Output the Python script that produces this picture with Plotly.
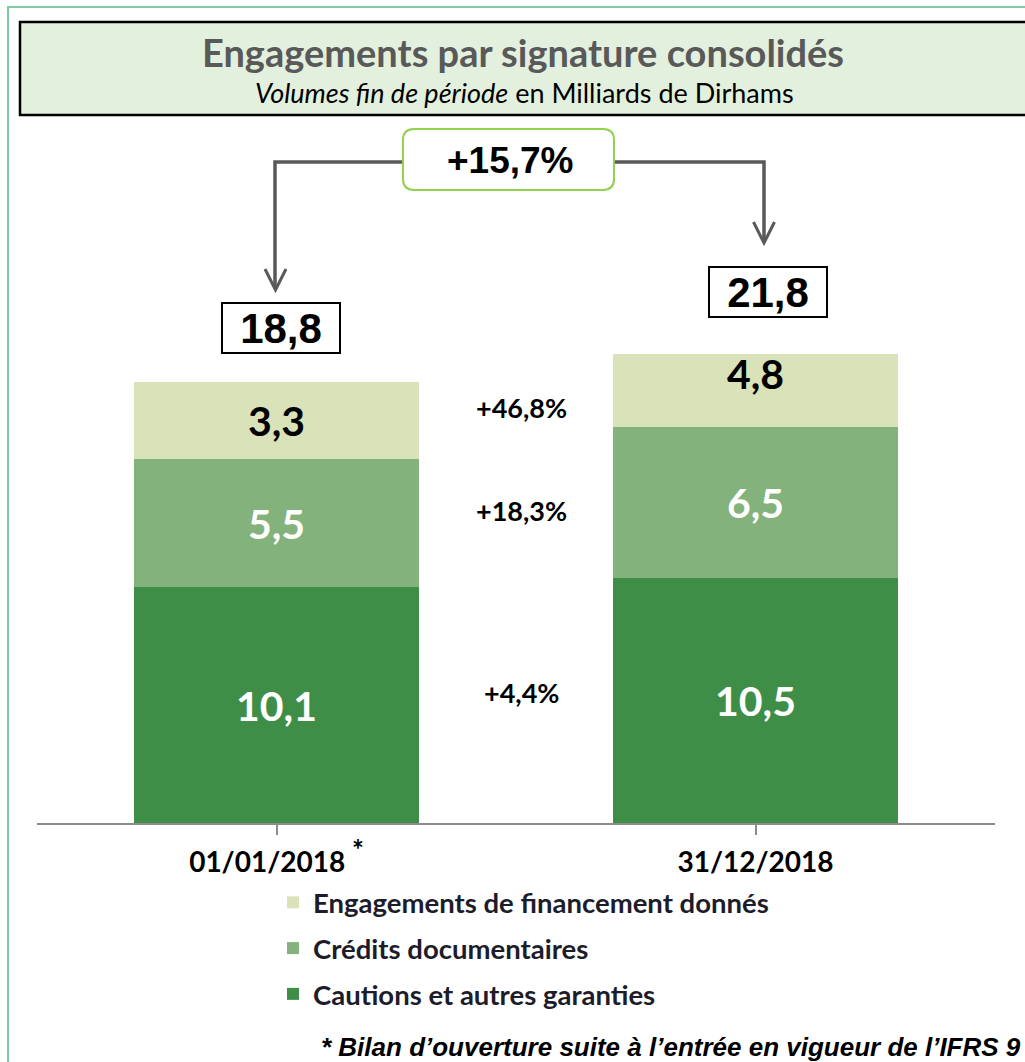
import plotly.graph_objects as go

# ---------------- data ----------------
categories = ["01/01/2018", "31/12/2018"]
tick_labels = ["01/01/2018<sup><span style='font-size:28px'> *</span></sup>", "31/12/2018"]

cautions = [10.1, 10.5]            # Cautions et autres garanties
credits_doc = [5.5, 6.5]           # Crédits documentaires
# Engagements de financement donnés: labelled 3,3 and 4,8; in the original
# picture the 31/12/2018 segment is drawn only ~3.1 high, so we keep the
# drawn heights and the printed labels separately.
financement_drawn = [3.3, 3.1]
financement_labels = ["3,3", "4,8"]

totals_labels = ["18,8", "21,8"]
growth_total = "+15,7%"
growth_series = ["+4,4%", "+18,3%", "+46,8%"]  # cautions, crédits, financement

series_names = ["Cautions et autres garanties", "Crédits documentaires",
                "Engagements de financement donnés"]
legend_ranks = [3, 2, 1]
colors = ["#3e8e47", "#84b27c", "#d9e2b9"]

# ---------------- geometry helpers (layout only) ----------------
W_FIG, H_FIG = 1025, 1062
L, R, T, B = 37, 995, 120, 823
PX_PER_UNIT = 23.32
Y_MAX = (B - T) / PX_PER_UNIT


def px(xp):
    return (xp - L) / (R - L)


def py(yp):
    return (B - yp) / (B - T)


def path(points, close=False):
    s = "M " + " L ".join(f"{px(a):.5f},{py(b):.5f}" for a, b in points)
    return s + (" Z" if close else "")


def rounded_rect(x0, y0, x1, y1, r):
    def p(a, b):
        return f"{px(a):.5f},{py(b):.5f}"
    return (f"M {p(x0 + r, y0)} L {p(x1 - r, y0)} Q {p(x1, y0)} {p(x1, y0 + r)} "
            f"L {p(x1, y1 - r)} Q {p(x1, y1)} {p(x1 - r, y1)} "
            f"L {p(x0 + r, y1)} Q {p(x0, y1)} {p(x0, y1 - r)} "
            f"L {p(x0, y0 + r)} Q {p(x0, y0)} {p(x0 + r, y0)} Z")


LABEL_FONT = "Lato, Calibri, 'Open Sans', sans-serif"
ARIAL = "'Liberation Sans', Arial, sans-serif"

fig = go.Figure()

series_values = [cautions, credits_doc, financement_drawn]
series_text = [[f"{v:.1f}".replace(".", ",") for v in cautions],
               [f"{v:.1f}".replace(".", ",") for v in credits_doc],
               None]

for i in range(3):
    if series_text[i] is not None:
        kw = dict(text=series_text[i], texttemplate="%{text}",
                  textposition="inside", insidetextanchor="middle", textangle=0,
                  constraintext="none",
                  textfont=dict(family=LABEL_FONT, size=41, color="white", weight="bold"))
    else:
        kw = dict(textposition="none")
    fig.add_trace(go.Bar(
        x=[0, 1], y=series_values[i], name=series_names[i],
        marker=dict(color=colors[i], line=dict(width=0)),
        width=0.593,
        legendgroup=f"g{i}", legendrank=legend_ranks[i], hoverinfo="skip",
        **kw,
    ))

annotations = []
shapes = []


def ann(**kw):
    kw.setdefault("showarrow", False)
    kw.setdefault("xanchor", "center")
    kw.setdefault("yanchor", "middle")
    annotations.append(kw)


# labels of the top segment (the 31/12 one sits near the top of its segment)
fin_label_yshift = [0, 17]
for i in range(2):
    ann(xref="x", yref="y", x=i,
        y=cautions[i] + credits_doc[i] + financement_drawn[i] / 2,
        yshift=fin_label_yshift[i], text=f"<b>{financement_labels[i]}</b>",
        font=dict(family=LABEL_FONT, size=41, color="black"))

# outer teal frame
shapes.append(dict(type="rect", xref="paper", yref="paper",
                   x0=px(8), x1=px(1040), y0=py(7), y1=py(1080),
                   line=dict(color="#7fcaa6", width=2), layer="below"))
# title box
shapes.append(dict(type="rect", xref="paper", yref="paper",
                   x0=px(20), x1=px(1035), y0=py(22), y1=py(115),
                   fillcolor="#e4f0de", line=dict(color="black", width=2.5), layer="below"))
ann(xref="paper", yref="paper", x=px(523), y=py(52),
    text="<b>Engagements par signature consolidés</b>",
    font=dict(family=LABEL_FONT, size=38, color="#595959"))
ann(xref="paper", yref="paper", x=px(524), y=py(92),
    text="<i>Volumes fin de période</i> en Milliards de Dirhams",
    font=dict(family=LABEL_FONT, size=27, color="black"))

# growth box and connectors
GRAY = "#595959"
shapes.append(dict(type="path", xref="paper", yref="paper",
                   path=path([(403, 162), (275, 162), (275, 289)]),
                   line=dict(color=GRAY, width=3.5)))
shapes.append(dict(type="path", xref="paper", yref="paper",
                   path=path([(615, 162), (764, 162), (764, 242)]),
                   line=dict(color=GRAY, width=3.5)))
shapes.append(dict(type="path", xref="paper", yref="paper",
                   path=path([(265, 269), (275.5, 290), (286, 269)]),
                   line=dict(color=GRAY, width=3)))
shapes.append(dict(type="path", xref="paper", yref="paper",
                   path=path([(753.5, 222), (764, 243), (774.5, 222)]),
                   line=dict(color=GRAY, width=3)))
shapes.append(dict(type="path", xref="paper", yref="paper",
                   path=rounded_rect(403, 129, 614, 190, 11),
                   fillcolor="white", line=dict(color="#92d050", width=2)))
ann(xref="paper", yref="paper", x=px(510), y=py(161),
    text=f"<b>{growth_total}</b>",
    font=dict(family=ARIAL, size=37, color="black"))

# total boxes
stack_tops = [cautions[i] + credits_doc[i] + financement_drawn[i] for i in range(2)]
box_yshift = [28, 36]
box_xshift = [4, 12]
for i in range(2):
    ann(xref="x", yref="y", x=i, y=stack_tops[i], yanchor="bottom",
        xshift=box_xshift[i], yshift=box_yshift[i],
        text=f"<b>{totals_labels[i]}</b>",
        width=116, height=48, borderpad=0,
        bordercolor="black", borderwidth=2, bgcolor="white",
        font=dict(family=ARIAL, size=42, color="black"))

# growth per series, placed between the bars at the level of the first bar's segments
mids = [cautions[0] / 2,
        cautions[0] + credits_doc[0] / 2,
        cautions[0] + credits_doc[0] + financement_drawn[0] / 2]
for g, m in zip(growth_series, mids):
    ann(xref="x", yref="y", x=0.512, y=m, yshift=13,
        text=f"<b>{g}</b>",
        font=dict(family=LABEL_FONT, size=27, color="black"))

# footnote
ann(xref="paper", yref="paper", x=px(1023), y=py(1047), xanchor="right",
    text="<b><i>* Bilan d’ouverture suite à l’entrée en vigueur de l’IFRS 9</i></b>",
    font=dict(family=ARIAL, size=26, color="black"))

fig.update_layout(
    width=W_FIG, height=H_FIG,
    margin=dict(l=L, r=W_FIG - R, t=T, b=H_FIG - B, pad=0),
    paper_bgcolor="white", plot_bgcolor="white",
    barmode="stack", bargap=0.407,
    showlegend=True,
    legend=dict(orientation="v", x=px(273), y=py(878), xanchor="left", yanchor="top",
                traceorder="grouped", tracegroupgap=7,
                font=dict(family=LABEL_FONT, size=27.5, color="#1c1c2a", weight="bold"),
                bgcolor="rgba(0,0,0,0)", borderwidth=0),
    xaxis=dict(range=[-0.5, 1.5], tickmode="array", tickvals=[0, 1], ticktext=tick_labels,
               tickson="boundaries", ticks="outside", ticklen=10, tickwidth=2,
               tickcolor="#8c8c8c", showline=True, linecolor="#8c8c8c", linewidth=2,
               showgrid=False, zeroline=False, ticklabelstandoff=3,
               tickfont=dict(family=LABEL_FONT, size=28, color="black", weight="bold"),
               fixedrange=True),
    yaxis=dict(range=[0, Y_MAX], visible=False, showgrid=False, zeroline=False,
               fixedrange=True),
    shapes=shapes, annotations=annotations,
)

fig.write_html("out.html", config={"displayModeBar": False},
               post_script="document.body.style.margin='0';document.body.style.overflow='hidden';")
